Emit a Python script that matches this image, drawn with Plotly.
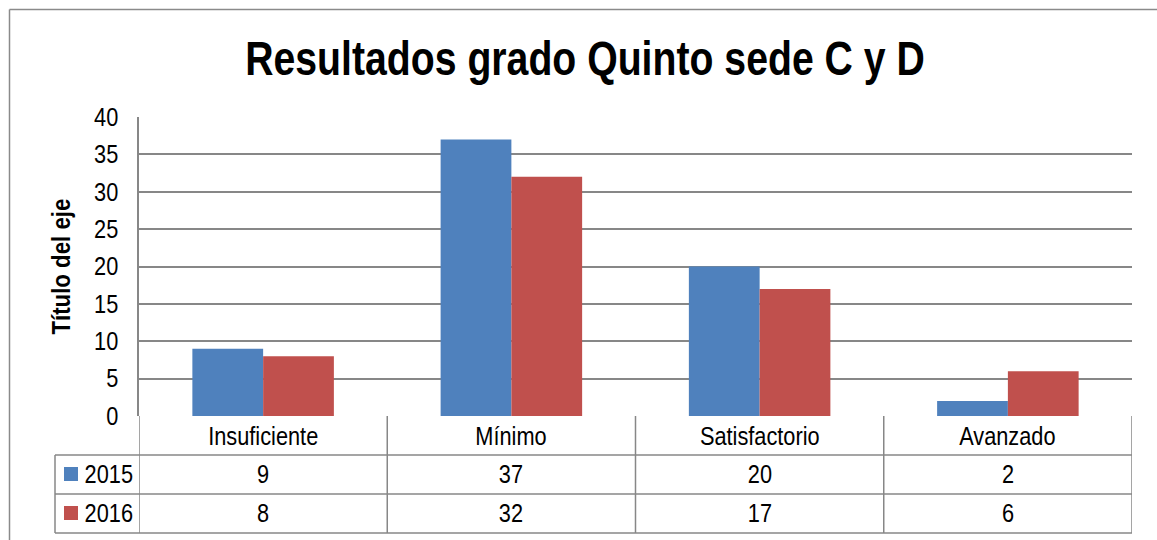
import plotly.graph_objects as go

categories = ["Insuficiente", "Mínimo", "Satisfactorio", "Avanzado"]
series_names = ["2015", "2016"]
values_2015 = [9, 37, 20, 2]
values_2016 = [8, 32, 17, 6]
series_values = [values_2015, values_2016]
colors = ["#4F81BD", "#C0504D"]
title_text = "Resultados grado Quinto sede C y D"
yaxis_title = "Título del eje"
y_ticks = [0, 5, 10, 15, 20, 25, 30, 35, 40]

W, H = 1157, 540
L, R, T, B = 139, 1132, 117, 416
FONT = "Liberation Sans Narrow, Arial Narrow, Liberation Sans, Arial, sans-serif"
GRID = "#878787"


def px_x(px):
    return (px - L) / (R - L)


def px_y(py):
    return (B - py) / (B - T)


fig = go.Figure()
for name, vals, col in zip(series_names, series_values, colors):
    fig.add_trace(go.Bar(
        x=list(range(len(categories))), y=vals, name=name,
        marker=dict(color=col, line=dict(width=0)),
        showlegend=False, hoverinfo="y",
    ))

shapes = []
ann = []

# table grid
row_y = [416, 455, 494, 533]
for yy in row_y[1:]:
    shapes.append(dict(type="line", xref="paper", yref="paper",
                       x0=px_x(55), x1=px_x(R), y0=px_y(yy), y1=px_y(yy),
                       line=dict(color=GRID, width=1.5)))
shapes.append(dict(type="line", xref="paper", yref="paper",
                   x0=px_x(55), x1=px_x(55), y0=px_y(455), y1=px_y(533),
                   line=dict(color=GRID, width=1.5)))
for k in range(len(categories) + 1):
    shapes.append(dict(type="line", xref="x", yref="paper",
                       x0=k - 0.5, x1=k - 0.5, y0=px_y(416), y1=px_y(533),
                       line=dict(color=GRID, width=1.5)))

# category headers
for k, c in enumerate(categories):
    ann.append(dict(x=k, y=px_y(436), xref="x", yref="paper", text=c,
                    showarrow=False, font=dict(size=25, color="#000", family=FONT),
                    xanchor="center", yanchor="middle"))

# value rows + legend keys
row_centers = [474, 513]
for name, vals, col, yc in zip(series_names, series_values, colors, row_centers):
    for k, v in enumerate(vals):
        ann.append(dict(x=k, y=px_y(yc), xref="x", yref="paper", text=str(v),
                        showarrow=False, font=dict(size=25, color="#000", family=FONT),
                        xanchor="center", yanchor="middle"))
    shapes.append(dict(type="rect", xref="paper", yref="paper",
                       x0=px_x(64), x1=px_x(78), y0=px_y(yc - 7), y1=px_y(yc + 7),
                       fillcolor=col, line=dict(width=0)))
    ann.append(dict(x=px_x(78.5), y=px_y(yc), xref="paper", yref="paper", text=name,
                    showarrow=False, font=dict(size=25, color="#000", family=FONT),
                    xanchor="left", yanchor="middle"))

# outer chart border (left and top visible)
shapes.append(dict(type="line", xref="paper", yref="paper",
                   x0=px_x(9.5), x1=px_x(9.5), y0=px_y(9.5), y1=px_y(560),
                   line=dict(color="#8a8a8a", width=1.5)))
shapes.append(dict(type="line", xref="paper", yref="paper",
                   x0=px_x(9.5), x1=px_x(1170), y0=px_y(9.5), y1=px_y(9.5),
                   line=dict(color="#8a8a8a", width=1.5)))

# y axis title
ann.append(dict(x=px_x(61), y=px_y(267), xref="paper", yref="paper", text="<b>" + yaxis_title + "</b>",
                showarrow=False, textangle=-90,
                font=dict(size=25, color="#000", family=FONT),
                xanchor="center", yanchor="middle"))

fig.update_layout(
    width=W, height=H,
    margin=dict(l=L, r=W - R, t=T, b=H - B, pad=0),
    paper_bgcolor="white", plot_bgcolor="white",
    barmode="group", bargap=0.43, bargroupgap=0,
    title=dict(text="<b>" + title_text + "</b>", x=585 / W, xanchor="center",
               y=1 - 58 / H, yanchor="middle",
               font=dict(size=49, color="#000", family=FONT)),
    xaxis=dict(range=[-0.5, len(categories) - 0.5], showticklabels=False, ticks="",
               showgrid=False, zeroline=False, showline=False, fixedrange=True),
    yaxis=dict(range=[0, 40], tickvals=y_ticks, ticks="", ticklabelstandoff=14,
               showgrid=True, gridcolor=GRID, gridwidth=1.5,
               zeroline=False, showline=True, linecolor=GRID, linewidth=1.5,
               tickfont=dict(size=25, color="#000", family=FONT), fixedrange=True),
    shapes=shapes, annotations=ann,
    font=dict(family=FONT),
)

# Remove the page's default body margin and emulate a narrow (condensed) face,
# since no narrow font is installed: text stays real text, glyphs are compressed.
post = """
document.body.style.margin = '0';
var gd = document.getElementById('{plot_id}');
function squeeze() {
  gd.querySelectorAll('text').forEach(function (t) {
    t.removeAttribute('textLength');
    t.removeAttribute('lengthAdjust');
    var w = t.getComputedTextLength();
    if (!(w > 0)) return;
    var bold = t.querySelector('tspan[style*="bold"]') !== null ||
               (t.getAttribute('style') || '').indexOf('bold') >= 0;
    var f = 0.87;
    if (t.classList.contains('gtitle')) f = 0.80;
    else if (bold) f = 0.89;
    t.setAttribute('textLength', (w * f).toFixed(2));
    t.setAttribute('lengthAdjust', 'spacingAndGlyphs');
  });
}
squeeze();
gd.on('plotly_afterplot', squeeze);
"""

fig.write_html("out.html", post_script=post, config={"displayModeBar": False})
